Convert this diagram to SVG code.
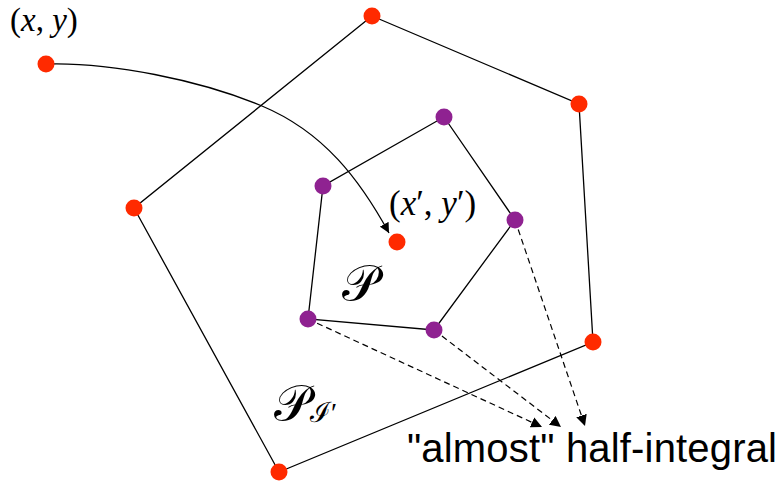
<svg xmlns="http://www.w3.org/2000/svg" width="783" height="481" viewBox="0 0 783 481">
<defs>
<marker id="ah" viewBox="0 0 10 10" refX="10" refY="5" markerWidth="10" markerHeight="10" markerUnits="userSpaceOnUse" orient="auto">
<path d="M0,0 L10,5 L0,10 z" fill="#000"/>
</marker>
<marker id="ahd" viewBox="0 0 10 10" refX="10" refY="5" markerWidth="11" markerHeight="11" markerUnits="userSpaceOnUse" orient="auto">
<path d="M0,0 L10,5 L0,10 z" fill="#000"/>
</marker>
</defs>
<style>
.edge{fill:none;stroke:#000;stroke-width:1.3}
.dash{fill:none;stroke:#000;stroke-width:1.2;stroke-dasharray:6,4}
.red{fill:#ff2a00}
.pur{fill:#8f2291}
.math{font-family:"Liberation Serif","DejaVu Serif",serif;fill:#000}
.lab{font-family:"Liberation Sans",Arial,sans-serif;fill:#000}
</style>
<rect width="783" height="481" fill="#fff"/>
<g id="connectors">
<polygon class="edge" points="372,16 579,104 593,342 279,472 134,208"/>
<polygon class="edge" points="444,117 515,220 434,330 308,319 323,186"/>
<path class="edge" d="M46,64 C110,62 200,80 262,106 S360,180 389,233" marker-end="url(#ah)"/>
<path class="dash" d="M308,319 L542,427" marker-end="url(#ahd)"/>
<path class="dash" d="M434,330 L561,427" marker-end="url(#ahd)"/>
<path class="dash" d="M515,220 L585,426" marker-end="url(#ahd)"/>
</g>
<g id="nodes">
<g id="xy"><circle class="red" cx="46" cy="64" r="8.5"/></g>
<g id="o1"><circle class="red" cx="372" cy="16" r="8.5"/></g>
<g id="o2"><circle class="red" cx="579" cy="104" r="8.5"/></g>
<g id="o3"><circle class="red" cx="593" cy="342" r="8.5"/></g>
<g id="o4"><circle class="red" cx="279" cy="472" r="8.5"/></g>
<g id="o5"><circle class="red" cx="134" cy="208" r="8.5"/></g>
<g id="xyp"><circle class="red" cx="397" cy="242" r="8.5"/></g>
<g id="i1"><circle class="pur" cx="444" cy="117" r="8.5"/></g>
<g id="i2"><circle class="pur" cx="515" cy="220" r="8.5"/></g>
<g id="i3"><circle class="pur" cx="434" cy="330" r="8.5"/></g>
<g id="i4"><circle class="pur" cx="308" cy="319" r="8.5"/></g>
<g id="i5"><circle class="pur" cx="323" cy="186" r="8.5"/></g>
</g>
<g id="labels">
<text class="math" x="10" y="31" font-size="33">(<tspan font-style="italic">x</tspan>, <tspan font-style="italic">y</tspan>)</text>
<text class="math" x="389" y="215" font-size="35">(<tspan font-style="italic">x</tspan>′, <tspan font-style="italic">y</tspan>′)</text>
<text class="math" x="342" y="300" font-size="50">𝒫</text>
<text class="math" x="274" y="420" font-size="50">𝒫<tspan font-size="28" dy="2">ℐ′</tspan></text>
<text class="lab" x="407" y="462" font-size="40" textLength="370">"almost" half-integral</text>
</g>
</svg>
